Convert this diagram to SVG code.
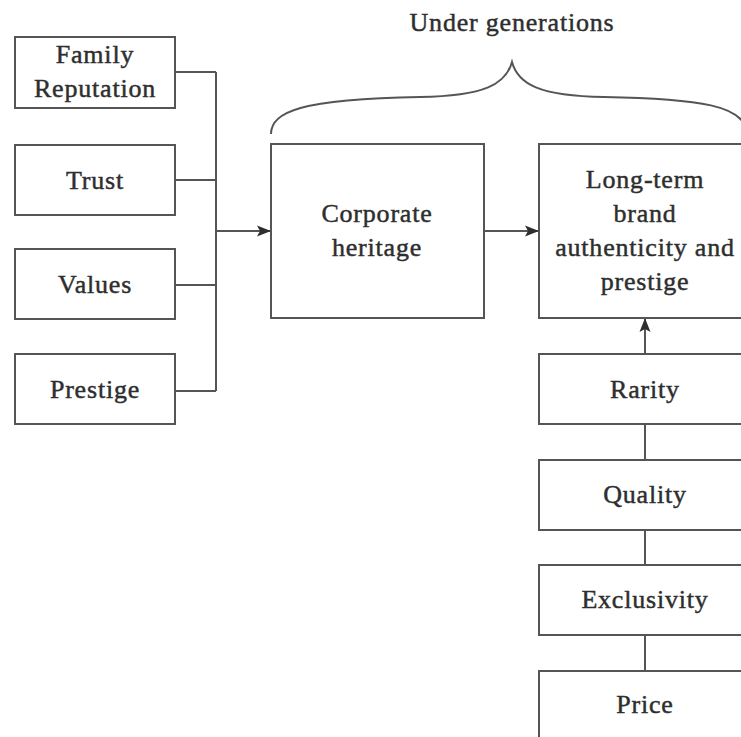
<svg xmlns="http://www.w3.org/2000/svg" width="741" height="737" viewBox="0 0 741 737">
  <defs>
    <style>
      .box { fill: #ffffff; stroke: #555555; stroke-width: 2; }
      .lbl { font-family: "Liberation Serif", "Times New Roman", serif; font-size: 26px; fill: #2e2e2e; stroke: #2e2e2e; stroke-width: 0.45; text-anchor: middle; letter-spacing: 0.8px; }
      .wire { fill: none; stroke: #555555; stroke-width: 2; }
    </style>
    <marker id="arrow" markerWidth="14" markerHeight="12" refX="13" refY="6" orient="auto" markerUnits="userSpaceOnUse">
      <path d="M0,0.5 L14,6 L0,11.5 L3,6 Z" fill="#2e2e2e"/>
    </marker>
  </defs>
  <rect width="741" height="737" fill="#ffffff"/>

  <!-- brace over the two heritage boxes -->
  <text class="lbl" x="512" y="31">Under generations</text>
  <path class="wire" d="M271,134 C271,112 300,99 420,97 C485,96 506,84 512,62 C518,84 539,96 604,97 C710,99 736,108 745,125"/>

  <g id="connectors">
    <path class="wire" d="M175,72 H216 M175,180 H216 M175,285 H216 M175,391 H216 M216,72 V391"/>
    <path class="wire" d="M216,231 H270" marker-end="url(#arrow)"/>
    <path class="wire" d="M484,231 H538" marker-end="url(#arrow)"/>
    <path class="wire" d="M645,354 V319" marker-end="url(#arrow)"/>
    <path class="wire" d="M645,424 V460 M645,530 V565 M645,635 V671"/>
  </g>

  <g id="family-reputation">
    <rect class="box" x="15" y="37" width="160" height="71"/>
    <text class="lbl" x="95" y="63">Family</text>
    <text class="lbl" x="95" y="97">Reputation</text>
  </g>
  <g id="trust">
    <rect class="box" x="15" y="145" width="160" height="70"/>
    <text class="lbl" x="95" y="189">Trust</text>
  </g>
  <g id="values">
    <rect class="box" x="15" y="249" width="160" height="70"/>
    <text class="lbl" x="95" y="293">Values</text>
  </g>
  <g id="prestige">
    <rect class="box" x="15" y="354" width="160" height="70"/>
    <text class="lbl" x="95" y="398">Prestige</text>
  </g>

  <g id="corporate-heritage">
    <rect class="box" x="271" y="144" width="213" height="174"/>
    <text class="lbl" x="377" y="222">Corporate</text>
    <text class="lbl" x="377" y="256">heritage</text>
  </g>

  <g id="long-term">
    <rect class="box" x="539" y="144" width="210" height="174"/>
    <text class="lbl" x="645" y="188">Long-term</text>
    <text class="lbl" x="645" y="222">brand</text>
    <text class="lbl" x="645" y="256">authenticity and</text>
    <text class="lbl" x="645" y="290">prestige</text>
  </g>

  <g id="rarity">
    <rect class="box" x="539" y="354" width="210" height="70"/>
    <text class="lbl" x="645" y="398">Rarity</text>
  </g>
  <g id="quality">
    <rect class="box" x="539" y="460" width="210" height="70"/>
    <text class="lbl" x="645" y="503">Quality</text>
  </g>
  <g id="exclusivity">
    <rect class="box" x="539" y="565" width="210" height="70"/>
    <text class="lbl" x="645" y="608">Exclusivity</text>
  </g>
  <g id="price">
    <rect class="box" x="539" y="671" width="210" height="80"/>
    <text class="lbl" x="645" y="713">Price</text>
  </g>
</svg>
